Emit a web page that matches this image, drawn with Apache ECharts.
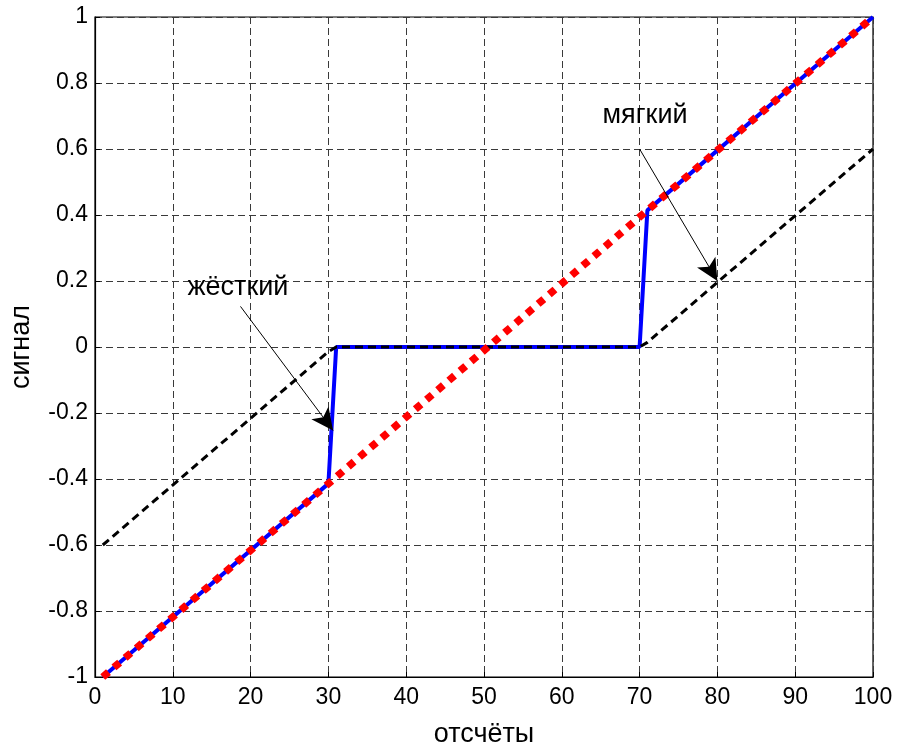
<!DOCTYPE html>
<html>
<head>
<meta charset="utf-8">
<script src="https://cdn.jsdelivr.net/npm/echarts@6/dist/echarts.min.js"></script>
<style>html,body{margin:0;padding:0;background:#fff;}#c{width:898px;height:753px;}</style>
</head>
<body>
<div id="c"></div>
<script>
// Data (sample index, signal)
const xTicks = [0, 10, 20, 30, 40, 50, 60, 70, 80, 90, 100];
const yTicks = [-1, -0.8, -0.6, -0.4, -0.2, 0, 0.2, 0.4, 0.6, 0.8, 1];
const signalLine = [[1, -1], [100, 1]];
const hardLine = [[1, -1], [30, -0.414], [31, 0], [70, 0], [71, 0.414], [100, 1]];
const softLine = [[1, -0.6], [30, -0.014], [31, 0], [70, 0], [71, 0.014], [100, 0.6]];
const labels = [
  { name: 'жёсткий', at: [18.37, 0.18], arrowFrom: [18.7, 0.123], arrowTo: [30.6, -0.253] },
  { name: 'мягкий', at: [70.7, 0.70], arrowFrom: [70, 0.6], arrowTo: [80, 0.2] }
];

const FONT = 'Liberation Sans, Arial, sans-serif';
const chart = echarts.init(document.getElementById('c'), null, { renderer: 'canvas' });
const gridLine = { show: true, lineStyle: { color: '#3a3a3a', width: 1, type: [7, 4] } };
const axisLine = { show: true, onZero: false, lineStyle: { color: '#000', width: 1.2 } };

chart.setOption({
  animation: false,
  backgroundColor: '#fff',
  grid: { left: 92, right: 25, top: 17, bottom: 72, show: true, borderColor: '#000', borderWidth: 1.2 },
  xAxis: {
    type: 'value', min: 0, max: 100, interval: 10,
    name: 'отсчёты', nameLocation: 'middle', nameGap: 44,
    nameTextStyle: { fontFamily: FONT, fontSize: 27, color: '#000' },
    axisLine: axisLine,
    axisTick: { show: true, inside: true, length: 5, lineStyle: { color: '#000' } },
    axisLabel: { fontFamily: FONT, fontSize: 23, color: '#000', margin: 9,
      formatter: v => xTicks.includes(v) ? String(v) : '' },
    splitLine: gridLine
  },
  yAxis: {
    type: 'value', min: -1, max: 1, interval: 0.2,
    name: 'сигнал', nameLocation: 'middle', nameGap: 60,
    nameTextStyle: { fontFamily: FONT, fontSize: 27, color: '#000' },
    axisLine: axisLine,
    axisTick: { show: true, inside: true, length: 5, lineStyle: { color: '#000' } },
    axisLabel: { fontFamily: FONT, fontSize: 23, color: '#000', margin: 7,
      formatter: v => { const t = yTicks.find(y => Math.abs(y - v) < 1e-9); return t === undefined ? '' : String(Math.round(t * 10) / 10); } },
    splitLine: gridLine
  },
  series: [
    { type: 'line', data: hardLine, symbol: 'none', z: 2,
      lineStyle: { color: '#0000ff', width: 4 } },
    { type: 'line', data: softLine, symbol: 'none', z: 3,
      lineStyle: { color: '#000', width: 3, type: [8, 5] } },
    { type: 'line', data: signalLine, symbol: 'none', z: 4,
      lineStyle: { color: '#ff0000', width: 7.5, type: [7.5, 7.2], cap: 'butt' } },
    { type: 'line', data: [], symbol: 'none', z: 5,
      markLine: {
        silent: true, symbol: ['none', 'arrow'], symbolSize: [16, 22],
        label: { show: false },
        lineStyle: { color: '#000', width: 1, type: 'solid' },
        itemStyle: { color: '#000' },
        emphasis: { disabled: true },
        data: labels.map(l => [{ coord: l.arrowFrom }, { coord: l.arrowTo }])
      } },
    { type: 'scatter', symbolSize: 0, z: 6, silent: true,
      itemStyle: { color: '#000', opacity: 1 },
      data: labels.map(l => ({ value: l.at, name: l.name })),
      label: { show: true, position: 'inside', formatter: p => p.name,
        fontFamily: FONT, fontSize: 27, color: '#000', textBorderWidth: 0, opacity: 1 } }
  ]
});
</script>
</body>
</html>
